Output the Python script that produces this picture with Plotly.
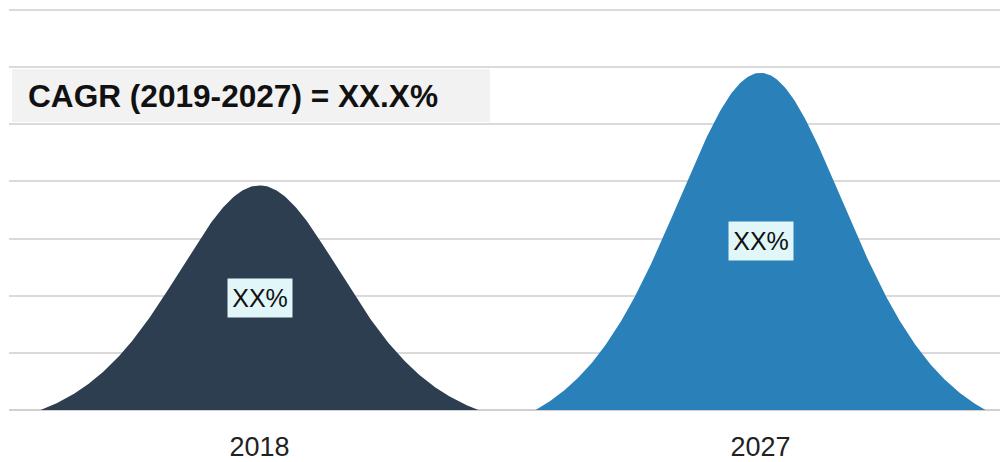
import numpy as np
import plotly.graph_objects as go

# ---- data ----
categories = ["2018", "2027"]
peak_values = [3.93, 5.9]
bar_labels = ["XX%", "XX%"]
cagr_text = "CAGR (2019-2027) = XX.X%"
y_ticks = [0, 1, 2, 3, 4, 5, 6, 7]

# ---- styles ----
colors = ["#2d3e50", "#2a80b9"]
half_widths = [0.437, 0.449]
A = 1.85
PLOT_TOP, PLOT_BOTTOM, PLOT_W = 8, 410, 991


def bell(t):
    s = 1.0 / np.cosh(A * t) ** 2
    e = 1.0 / np.cosh(A) ** 2
    return (s - e) / (1 - e)


def py(p):
    return (PLOT_BOTTOM - p) / (PLOT_BOTTOM - PLOT_TOP)


fig = go.Figure()
t = np.linspace(-1, 1, 301)
for i, (cat, v) in enumerate(zip(categories, peak_values)):
    xs = i + t * half_widths[i]
    ys = v * bell(t)
    fig.add_trace(go.Scatter(
        x=np.concatenate([xs, [xs[-1], xs[0]]]),
        y=np.concatenate([ys, [0, 0]]),
        fill="toself", fillcolor=colors[i], mode="lines",
        line=dict(width=0, color=colors[i]), hoverinfo="skip",
        showlegend=False,
    ))
    fig.add_annotation(
        x=i, y=v / 2, xref="x", yref="y", text=bar_labels[i],
        showarrow=False, bgcolor="#e0f6f9", borderpad=3,
        width=58, height=32,
        font=dict(family="Liberation Sans, Arial", size=25, color="#111111"),
    )

# CAGR box
fig.add_shape(type="rect", xref="paper", yref="paper",
              x0=3 / PLOT_W, x1=481 / PLOT_W, y0=py(122), y1=py(69),
              fillcolor="#f2f2f2", line=dict(width=0), layer="above")
fig.add_annotation(
    xref="paper", yref="paper", x=17 / PLOT_W, y=py(96),
    xanchor="left", yanchor="middle", text="<b>" + cagr_text + "</b>",
    showarrow=False,
    font=dict(family="Liberation Sans, Arial", size=31.6, color="#111111"),
)

fig.update_layout(
    width=1000, height=462,
    margin=dict(l=9, r=0, t=PLOT_TOP, b=462 - PLOT_BOTTOM),
    paper_bgcolor="white", plot_bgcolor="white",
    xaxis=dict(
        range=[-0.5, PLOT_W / 501 - 0.5], tickvals=[0, 1], ticktext=categories,
        showgrid=False, zeroline=False, showline=False, ticks="",
        ticklabelstandoff=18,
        tickfont=dict(family="Liberation Sans, Arial", size=27, color="#222222"),
    ),
    yaxis=dict(
        range=[0, 7 * (PLOT_BOTTOM - PLOT_TOP) / 400], tickvals=y_ticks,
        showticklabels=False,
        showgrid=True, gridcolor="#dadada", gridwidth=1.6,
        zeroline=True, zerolinecolor="#d0d0d0", zerolinewidth=1.6,
        showline=False, ticks="",
    ),
)

fig.write_html(
    "out.html",
    config={"displayModeBar": False},
    post_script="document.body.style.margin='0';document.body.style.overflow='hidden';",
)
